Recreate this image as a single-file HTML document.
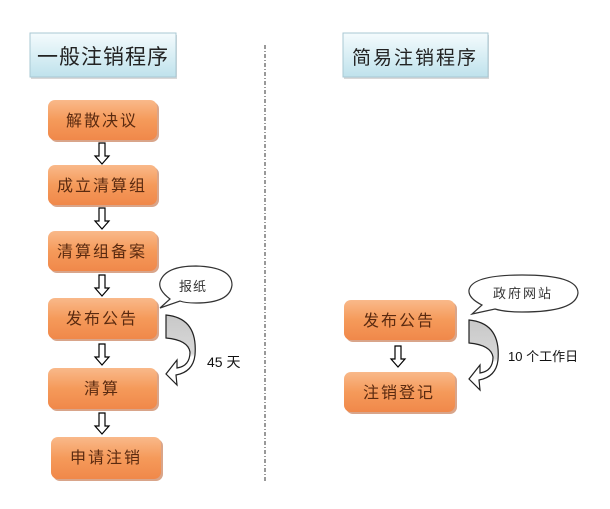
<!DOCTYPE html>
<html><head><meta charset="utf-8"><style>
body{margin:0;background:#fff;width:610px;height:509px;overflow:hidden}
svg{display:block}
text{font-family:"Liberation Sans","Noto Sans CJK SC",sans-serif}
</style></head><body>
<svg width="610" height="509" viewBox="0 0 610 509" xmlns="http://www.w3.org/2000/svg">
<defs>
<linearGradient id="t" x1="0" y1="0" x2="0" y2="1"><stop offset="0" stop-color="#f4fbfd"/><stop offset="1" stop-color="#bfe2ec"/></linearGradient>
<linearGradient id="o" x1="0" y1="0" x2="0" y2="1"><stop offset="0" stop-color="#f9b98a"/><stop offset="0.5" stop-color="#f59a5a"/><stop offset="1" stop-color="#f0884a"/></linearGradient>
<linearGradient id="g" x1="0" y1="0" x2="0" y2="1"><stop offset="0" stop-color="#c8c8c8"/><stop offset="0.55" stop-color="#d8d8d8"/><stop offset="0.6" stop-color="#fff"/></linearGradient>
<g id="dn"><path d="M-3,0 h6 v13 h4 l-7,8 l-7,-8 h4 z" fill="#fff" stroke="#000" stroke-width="1.2"/></g>
<g id="ca"><path d="M0,0 Q32,3 29,40 Q27,57 10,60 L11,70 L0,59 L11,45 L11,53 Q24,51 24,37 Q22,25 0,23 Z" fill="url(#g)" stroke="#222" stroke-width="1.2"/></g>
</defs>
<!-- titles -->
<rect x="31" y="35" width="146" height="44" fill="#d8d8d8"/>
<rect x="30" y="33" width="146" height="44" fill="url(#t)" stroke="#a9c8d3"/>
<text x="103" y="64" text-anchor="middle" font-size="21" fill="#222" letter-spacing="1">一般注销程序</text>
<rect x="344" y="35" width="145" height="44" fill="#d8d8d8"/>
<rect x="343" y="33" width="145" height="44" fill="url(#t)" stroke="#a9c8d3"/>
<text x="415" y="64" text-anchor="middle" font-size="19" fill="#222" letter-spacing="2">简易注销程序</text>
<line x1="265" y1="45" x2="265" y2="482" stroke="#333" stroke-width="1" stroke-dasharray="4,2,1,2"/>
<!-- left boxes -->
<g font-size="16" text-anchor="middle" letter-spacing="2">
<g fill="#d9a58a">
<rect x="50" y="102" width="109" height="40" rx="7"/><rect x="50" y="167" width="109" height="40" rx="7"/><rect x="50" y="233" width="109" height="40" rx="7"/><rect x="50" y="300" width="109" height="41" rx="7"/><rect x="50" y="370" width="109" height="41" rx="7"/><rect x="53" y="439" width="110" height="42" rx="7"/><rect x="346" y="302" width="111" height="40" rx="7"/><rect x="346" y="374" width="111" height="40" rx="7"/>
</g>
<rect x="48" y="100" width="109" height="40" rx="7" fill="url(#o)"/><text x="102" y="126" fill="#5a2a10">解散决议</text>
<rect x="48" y="165" width="109" height="40" rx="7" fill="url(#o)"/><text x="102" y="191" fill="#5a2a10">成立清算组</text>
<rect x="48" y="231" width="109" height="40" rx="7" fill="url(#o)"/><text x="102" y="257" fill="#5a2a10">清算组备案</text>
<rect x="48" y="298" width="109" height="41" rx="7" fill="url(#o)"/><text x="102" y="324" fill="#5a2a10">发布公告</text>
<rect x="48" y="368" width="109" height="41" rx="7" fill="url(#o)"/><text x="102" y="394" fill="#5a2a10">清算</text>
<rect x="51" y="437" width="110" height="42" rx="7" fill="url(#o)"/><text x="106" y="463" fill="#5a2a10">申请注销</text>
<rect x="344" y="300" width="111" height="40" rx="7" fill="url(#o)"/><text x="399" y="326" fill="#5a2a10">发布公告</text>
<rect x="344" y="372" width="111" height="40" rx="7" fill="url(#o)"/><text x="399" y="398" fill="#5a2a10">注销登记</text>
</g>
<use href="#dn" x="102" y="143"/>
<use href="#dn" x="102" y="208"/>
<use href="#dn" x="102" y="275"/>
<use href="#dn" x="102" y="344"/>
<use href="#dn" x="102" y="413"/>
<use href="#dn" x="398" y="346"/>
<!-- bubbles -->
<path d="M170,299 Q158,290 160,282 Q165,266 196,266 Q232,267 232,285 Q230,303 196,303 Q185,303 180,301 L160,308 Z" fill="#fff" stroke="#333" stroke-width="1.2"/>
<text x="193" y="291" font-size="13" fill="#333" text-anchor="middle" letter-spacing="1">报纸</text>
<path d="M482,305 Q468,298 469,290 Q472,275 522,275 Q578,275 578,293 Q576,312 522,312 Q505,312 495,309 L472,314 Z" fill="#fff" stroke="#333" stroke-width="1.2"/>
<text x="523" y="298" font-size="13" fill="#333" text-anchor="middle" letter-spacing="2">政府网站</text>
<!-- curved arrows -->
<use href="#ca" x="166" y="315"/>
<use href="#ca" x="469" y="320"/>
<text x="207" y="367" font-size="14" fill="#111">45 天</text>
<text x="508" y="361" font-size="13" fill="#111">10 个工作日</text>
</svg>
</body></html>
